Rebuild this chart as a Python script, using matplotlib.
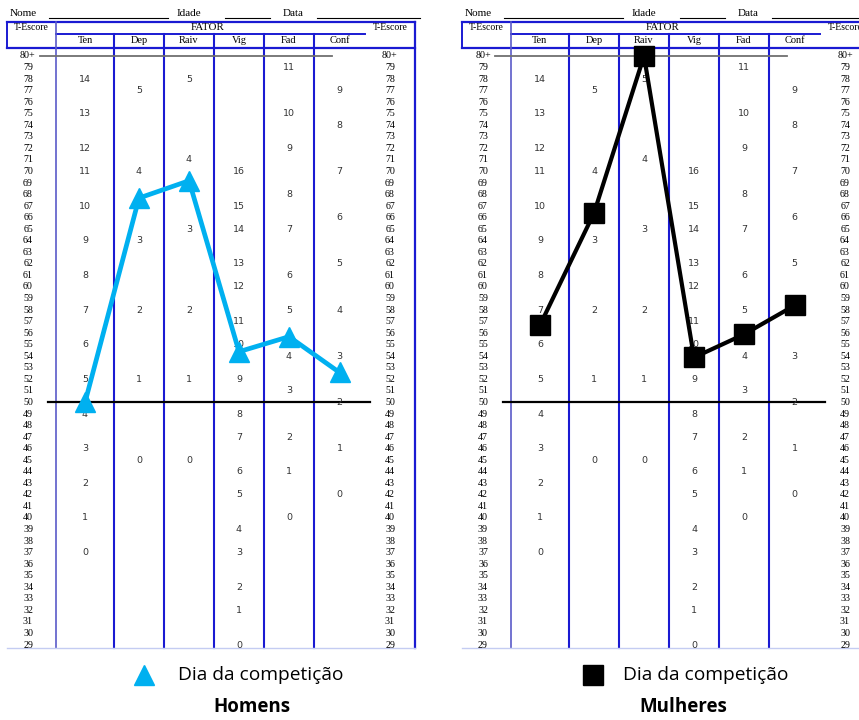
import matplotlib
matplotlib.use("Agg")
import matplotlib.pyplot as plt

# dados
factors = ["Ten", "Dep", "Raiv", "Vig", "Fad", "Conf"]
t_labels = ["80+"] + [str(v) for v in range(79, 28, -1)]
t_values = [80] + list(range(79, 28, -1))

# escore bruto -> T-escore de cada fator
ten_raw = [14, 13, 12, 11, 10, 9, 8, 7, 6, 5, 4, 3, 2, 1, 0]
ten_t = [78, 75, 72, 70, 67, 64, 61, 58, 55, 52, 49, 46, 43, 40, 37]
dep_raw = [5, 4, 3, 2, 1, 0]
dep_t = [77, 70, 64, 58, 52, 45]
raiv_raw = [5, 4, 3, 2, 1, 0]
raiv_t = [78, 71, 65, 58, 52, 45]
vig_raw = [16, 15, 14, 13, 12, 11, 10, 9, 8, 7, 6, 5, 4, 3, 2, 1, 0]
vig_t = [70, 67, 65, 62, 60, 57, 55, 52, 49, 47, 44, 42, 39, 37, 34, 32, 29]
fad_raw = [11, 10, 9, 8, 7, 6, 5, 4, 3, 2, 1, 0]
fad_t = [79, 75, 72, 68, 65, 61, 58, 54, 51, 47, 44, 40]
conf_raw = [9, 8, 7, 6, 5, 4, 3, 2, 1, 0]
conf_t = [77, 74, 70, 66, 62, 58, 54, 50, 46, 42]

men_t = [50.0, 67.7, 69.2, 54.4, 55.7, 52.6]
women_t = [56.7, 66.4, 80.0, 53.9, 55.9, 58.4]

legend_label = "Dia da competição"

# layout (pixels dentro de cada painel)
col_edges = [56, 114, 164, 214, 264, 314]
col_centres = [85, 139, 189, 239, 289, 339.5]
BLUE = "#1a1ad2"
SERIF = "Liberation Serif"


def ty(py):
    # pixel vertical -> T-escore
    return 50 + (402.5 - py) / 11.55


def draw_form(ax):
    ax.set_xlim(0, 430)
    ax.set_ylim(ty(720), ty(0))
    ax.axis("off")

    # cabeçalho
    ax.text(10, ty(14), "Nome", fontsize=8, family=SERIF, va="center")
    ax.plot([49, 168], [ty(18), ty(18)], color="black", lw=0.8)
    ax.text(177, ty(14), "Idade", fontsize=8, family=SERIF, va="center")
    ax.plot([225, 270], [ty(18), ty(18)], color="black", lw=0.8)
    ax.text(283, ty(14), "Data", fontsize=8, family=SERIF, va="center")
    ax.plot([317, 420], [ty(18), ty(18)], color="black", lw=0.8)

    ax.plot([7, 415], [ty(22), ty(22)], color=BLUE, lw=1.6)
    ax.plot([7, 415], [ty(48), ty(48)], color=BLUE, lw=1.6)
    ax.plot([56, 365], [ty(34), ty(34)], color=BLUE, lw=1.4)
    ax.plot([7, 7], [ty(22), ty(48)], color=BLUE, lw=1.4)
    ax.plot([415, 415], [ty(22), ty(648)], color=BLUE, lw=1.6)
    ax.plot([56, 56], [ty(22), ty(648)], color="#5a5ac8", lw=1.2)
    for x in col_edges[1:]:
        ax.plot([x, x], [ty(34), ty(648)], color=BLUE, lw=1.5)
    ax.plot([7, 415], [ty(648), ty(648)], color="#c4ccf2", lw=1)

    ax.text(31, ty(28), "T-Escore", fontsize=7, family=SERIF, ha="center", va="center")
    ax.text(390, ty(28), "T-Escore", fontsize=7, family=SERIF, ha="center", va="center")
    ax.text(208, ty(28), "FATOR", fontsize=7.8, family=SERIF, ha="center", va="center")
    for x, name in zip(col_centres, factors):
        ax.text(x, ty(41), name, fontsize=7.5, family=SERIF, ha="center", va="center")

    # linhas 80+ e 50
    ax.plot([40, 332], [80, 80], color="#707070", lw=1.3)
    ax.plot([48, 370], [50, 50], color="black", lw=1.6)

    # T-escores nas laterais
    for lab, v in zip(t_labels, t_values):
        for x in (28, 390):
            ax.text(x, v, lab, fontsize=7.2, family=SERIF, ha="center", va="center")

    # escores brutos
    raws = [ten_raw, dep_raw, raiv_raw, vig_raw, fad_raw, conf_raw]
    tss = [ten_t, dep_t, raiv_t, vig_t, fad_t, conf_t]
    for x, raw, ts in zip(col_centres, raws, tss):
        for r, t in zip(raw, ts):
            ax.text(x, t, str(r), fontsize=6.8, color="#333333", ha="center", va="center")


fig = plt.figure(figsize=(8.59, 7.2), dpi=100)
ax1 = fig.add_axes([0, 0, 430 / 859, 1])
ax2 = fig.add_axes([455 / 859, 0, 430 / 859, 1])

draw_form(ax1)
draw_form(ax2)

# Homens
ax1.plot(col_centres, men_t, color="#00b0f0", lw=3.4, marker="^", markersize=14,
         markerfacecolor="#00b0f0", markeredgecolor="#00b0f0", zorder=5)
ax1.plot([144], [ty(675)], marker="^", markersize=14, color="#00b0f0", clip_on=False)
ax1.text(178, ty(675), legend_label, fontsize=13.8, family="Open Sans", va="center")
ax1.text(252, ty(707), "Homens", fontsize=13.5, family="Open Sans", weight="bold",
         ha="center", va="center")

# Mulheres
ax2.plot(col_centres, women_t, color="black", lw=3, marker="s", markersize=14,
         markerfacecolor="black", markeredgecolor="black", zorder=5, clip_on=False)
ax2.plot([138], [ty(675)], marker="s", markersize=14, color="black")
ax2.text(168, ty(675), legend_label, fontsize=13.8, family="Open Sans", va="center")
ax2.text(228, ty(707), "Mulheres", fontsize=13.5, family="Open Sans", weight="bold",
         ha="center", va="center")

fig.savefig("out.png", dpi=100)
